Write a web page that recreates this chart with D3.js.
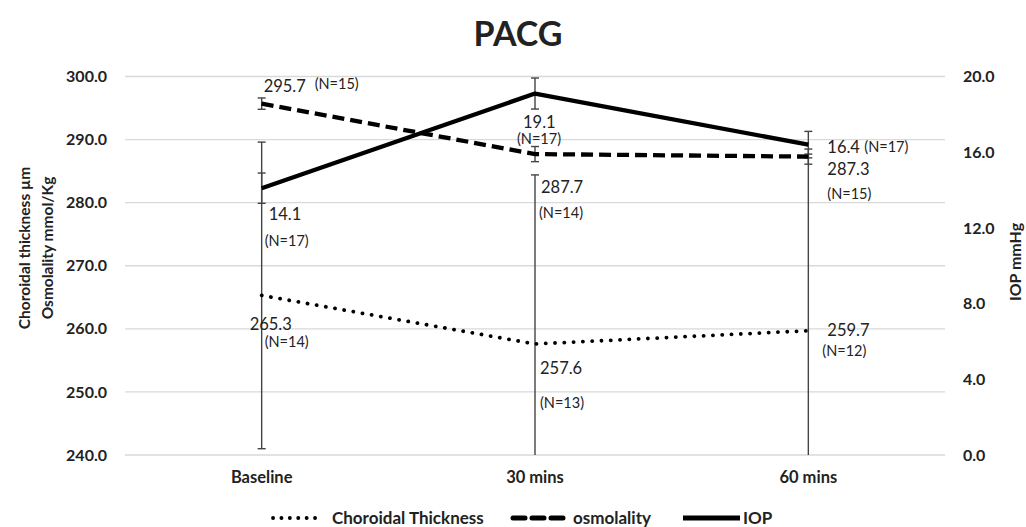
<!DOCTYPE html>
<html lang="en">
<head>
  <meta charset="UTF-8">
  <title>PACG</title>
  <script src="https://cdn.jsdelivr.net/npm/d3@7/dist/d3.min.js"></script>
  <style>
    body { margin: 0; background: #fff; }
    text { font-family: Lato, "Open Sans", sans-serif; fill: #222; }
  </style>
</head>
<body>
  <div id="wrapper"></div>
  <script>
    const categories = ["Baseline", "30 mins", "60 mins"]
    const choroidal = [265.3, 257.6, 259.7]
    const choroidalSd = [24.3, 26.8, 28]
    const choroidalN = [14, 13, 12]
    const osmolality = [295.7, 287.7, 287.3]
    const osmolalitySd = [0.9, 1.2, 1.2]
    const osmolalityN = [15, 14, 15]
    const iop = [14.1, 19.1, 16.4]
    const iopSd = [0.8, 0.82, 0.7]
    const iopN = [17, 17, 17]
    const leftTicks = [240, 250, 260, 270, 280, 290, 300]
    const rightTicks = [0, 4, 8, 12, 16, 20]

    const dimensions = {
      width: 1026,
      height: 527,
      margin: { top: 76.5, right: 81, bottom: 72, left: 125 }
    }
    dimensions.boundedWidth = dimensions.width - dimensions.margin.left - dimensions.margin.right
    dimensions.boundedHeight = dimensions.height - dimensions.margin.top - dimensions.margin.bottom

    const svg = d3.select("#wrapper").append("svg")
      .attr("width", dimensions.width)
      .attr("height", dimensions.height)

    svg.append("text")
      .attr("x", 518).attr("y", 46)
      .attr("text-anchor", "middle")
      .style("font-size", "34px").style("font-weight", "bold")
      .text("PACG")

    const bounds = svg.append("g")
      .attr("transform", `translate(${dimensions.margin.left},${dimensions.margin.top})`)

    const xScale = d3.scaleBand()
      .domain(categories)
      .range([0, dimensions.boundedWidth])
    const xc = d => xScale(d) + xScale.bandwidth() / 2

    const yLeft = d3.scaleLinear().domain([240, 300]).range([dimensions.boundedHeight, 0])
    const yRight = d3.scaleLinear().domain([0, 20]).range([dimensions.boundedHeight, 0])

    // gridlines
    bounds.append("g").selectAll("line").data(leftTicks).join("line")
      .attr("x1", 0).attr("x2", dimensions.boundedWidth)
      .attr("y1", d => yLeft(d)).attr("y2", d => yLeft(d))
      .attr("stroke", "#d9d9d9").attr("stroke-width", 1.3)

    // left axis
    const leftAxis = bounds.append("g")
      .call(d3.axisLeft(yLeft).tickValues(leftTicks).tickFormat(d3.format(".1f")).tickSize(0).tickPadding(18))
    leftAxis.select(".domain").remove()
    leftAxis.selectAll("text").style("font-size", "16px").style("font-weight", "bold")

    // right axis
    const rightAxis = bounds.append("g")
      .attr("transform", `translate(${dimensions.boundedWidth},0)`)
      .call(d3.axisRight(yRight).tickValues(rightTicks).tickFormat(d3.format(".1f")).tickSize(0).tickPadding(18))
    rightAxis.select(".domain").remove()
    rightAxis.selectAll("text").style("font-size", "16px").style("font-weight", "bold")

    // x axis
    const xAxis = bounds.append("g")
      .attr("transform", `translate(0,${dimensions.boundedHeight})`)
      .call(d3.axisBottom(xScale).tickSize(0).tickPadding(16))
    xAxis.select(".domain").remove()
    xAxis.selectAll("text").style("font-size", "16.5px").style("font-weight", "bold")

    // axis titles
    const leftTitle = svg.append("text")
      .attr("transform", "translate(30,248) rotate(-90)")
      .attr("text-anchor", "middle")
      .style("font-size", "15.5px").style("font-weight", "bold")
    leftTitle.append("tspan").attr("x", 0).attr("dy", 0).text("Choroidal thickness µm")
    leftTitle.append("tspan").attr("x", 0).attr("dy", 23).text("Osmolality mmol/Kg")

    svg.append("text")
      .attr("transform", "translate(1021,262) rotate(-90)")
      .attr("text-anchor", "middle")
      .style("font-size", "16px").style("font-weight", "bold")
      .text("IOP mmHg")

    // error bars
    const errorBars = (values, sds, scale) => {
      const [lo, hi] = scale.domain()
      const g = bounds.append("g")
      values.forEach((v, i) => {
        const x = xc(categories[i])
        const top = Math.min(v + sds[i], hi)
        const bot = Math.max(v - sds[i], lo)
        g.append("line")
          .attr("x1", x).attr("x2", x)
          .attr("y1", scale(top)).attr("y2", scale(bot))
          .attr("stroke", "#444").attr("stroke-width", 1.4)
        if (v + sds[i] <= hi) {
          g.append("line").attr("x1", x - 4).attr("x2", x + 4)
            .attr("y1", scale(top)).attr("y2", scale(top))
            .attr("stroke", "#444").attr("stroke-width", 1.4)
        }
        if (v - sds[i] >= lo) {
          g.append("line").attr("x1", x - 4).attr("x2", x + 4)
            .attr("y1", scale(bot)).attr("y2", scale(bot))
            .attr("stroke", "#444").attr("stroke-width", 1.4)
        }
      })
    }
    errorBars(choroidal, choroidalSd, yLeft)
    errorBars(osmolality, osmolalitySd, yLeft)
    errorBars(iop, iopSd, yRight)

    // lines
    const lineOf = scale => d3.line().x((d, i) => xc(categories[i])).y(d => scale(d))

    bounds.append("path")
      .attr("d", lineOf(yLeft)(choroidal))
      .attr("fill", "none").attr("stroke", "#000")
      .attr("stroke-width", 3.8).attr("stroke-linecap", "round")
      .attr("stroke-dasharray", "0.1 9.2")

    bounds.append("path")
      .attr("d", lineOf(yLeft)(osmolality))
      .attr("fill", "none").attr("stroke", "#000")
      .attr("stroke-width", 4.3).attr("stroke-dasharray", "12 6")

    bounds.append("path")
      .attr("d", lineOf(yRight)(iop))
      .attr("fill", "none").attr("stroke", "#000")
      .attr("stroke-width", 4.3).attr("stroke-linejoin", "round")

    // data labels
    const label = (cat, scale, v, dx, dy, txt, size) => {
      bounds.append("text")
        .attr("x", xc(cat) + dx).attr("y", scale(v) + dy)
        .style("font-size", size + "px")
        .text(txt)
    }
    const fmt = d3.format(".1f")
    const big = 16.5, small = 14.5
    // osmolality
    label(categories[0], yLeft, osmolality[0], 2, -12, fmt(osmolality[0]), big)
    label(categories[0], yLeft, osmolality[0], 53, -15, `(N=${osmolalityN[0]})`, small)
    label(categories[1], yLeft, osmolality[1], 6, 39, fmt(osmolality[1]), big)
    label(categories[1], yLeft, osmolality[1], 4, 64, `(N=${osmolalityN[1]})`, small)
    label(categories[2], yLeft, osmolality[2], 19, 18, fmt(osmolality[2]), big)
    label(categories[2], yLeft, osmolality[2], 19, 42, `(N=${osmolalityN[2]})`, small)
    // IOP
    label(categories[0], yRight, iop[0], 7, 32, fmt(iop[0]), big)
    label(categories[0], yRight, iop[0], 3, 58, `(N=${iopN[0]})`, small)
    label(categories[1], yRight, iop[1], -12, 34, fmt(iop[1]), big)
    label(categories[1], yRight, iop[1], -18, 50, `(N=${iopN[1]})`, small)
    label(categories[2], yRight, iop[2], 19, 8, fmt(iop[2]), big)
    label(categories[2], yRight, iop[2], 56, 7, `(N=${iopN[2]})`, small)
    // choroidal
    label(categories[0], yLeft, choroidal[0], -12, 35, fmt(choroidal[0]), big)
    label(categories[0], yLeft, choroidal[0], 3, 52, `(N=${choroidalN[0]})`, small)
    label(categories[1], yLeft, choroidal[1], 5, 30, fmt(choroidal[1]), big)
    label(categories[1], yLeft, choroidal[1], 5, 64, `(N=${choroidalN[1]})`, small)
    label(categories[2], yLeft, choroidal[2], 19, 5, fmt(choroidal[2]), big)
    label(categories[2], yLeft, choroidal[2], 14, 25, `(N=${choroidalN[2]})`, small)

    // legend
    const legendItems = [
      { name: "Choroidal Thickness", x1: 273, x2: 322, dash: "0.1 8.3", width: 3.8, cap: "round", tx: 332 },
      { name: "osmolality", x1: 513, x2: 563, dash: "12 7", width: 5, cap: "round", tx: 573 },
      { name: "IOP", x1: 683, x2: 740, dash: null, width: 5, cap: "butt", tx: 743 }
    ]
    const legend = svg.append("g")
    legendItems.forEach(it => {
      legend.append("line")
        .attr("x1", it.x1).attr("x2", it.x2).attr("y1", 518).attr("y2", 518)
        .attr("stroke", "#000").attr("stroke-width", it.width)
        .attr("stroke-linecap", it.cap)
        .attr("stroke-dasharray", it.dash)
      legend.append("text")
        .attr("x", it.tx).attr("y", 524)
        .style("font-size", "17px").style("font-weight", "bold")
        .text(it.name)
    })
  </script>
</body>
</html>
